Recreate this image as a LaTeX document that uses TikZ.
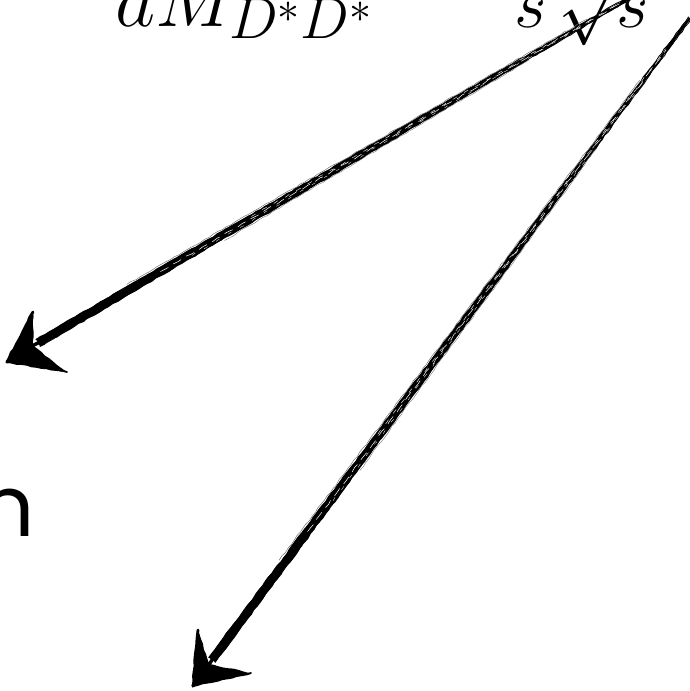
\documentclass[tikz,border=0pt]{standalone}
\usepackage{fix-cm}
\usepackage{fontspec}
\newfontfamily\wordfont{Poppins}
\DeclareMathSizes{78}{78}{58}{44}
\usetikzlibrary{calc, decorations.pathmorphing}

\begin{document}
\begin{tikzpicture}[x=1pt, y=-1pt,
  ink/.style={black, line cap=round, line join=round},
  rough/.style={decorate, decoration={random steps, segment length=5pt, amplitude=0.6pt}},
  big/.style={inner sep=0pt, font=\fontsize{78}{84}\selectfont}]
  \pgfmathsetseed{11}
  \useasboundingbox (0,0) rectangle (690,691);
  \clip (0,0) rectangle (690,691);
  % labels, cut by the frame
  \node[big, anchor=base west] (mass) at (115,26) {$aM_{D^*D^*}$};
  \node[inner sep=0pt, anchor=base west, font=\fontsize{70}{76}\selectfont] (energy) at (514,27) {$s\,\sqrt{s}$};
  \node[inner sep=0pt, anchor=base east, font=\wordfont\fontsize{85}{90}\selectfont] (word) at (35,536) {n};
  % arrow ends
  \coordinate (tail1) at (650,-14);
  \coordinate (neck1) at (38,343);
  \coordinate (tip1) at (7,362);
  \coordinate (barbA1) at (33,312);
  \coordinate (barbB1) at (67,372);
  \coordinate (tail2) at (690,18);
  \coordinate (neck2) at (212,660);
  \coordinate (tip2) at (193,686);
  \coordinate (barbA2) at (198,630);
  \coordinate (barbB2) at (251,673);
  % sketchy arrows
  \foreach \k in {1,2} {
    \fill[ink, rough] ($(neck\k)!4.4pt!90:(tail\k)$) -- ($(neck\k)!0.55!(tail\k)!3.8pt!90:(tail\k)$)
      -- ($(tail\k)!1.2pt!-90:(neck\k)$) -- ($(tail\k)!1.2pt!90:(neck\k)$)
      -- ($(neck\k)!0.55!(tail\k)!3.8pt!-90:(tail\k)$) -- ($(neck\k)!4.4pt!-90:(tail\k)$) -- cycle;
    \draw[ink, rough, line width=0.9pt] ($(neck\k)!4pt!90:(tail\k)$) -- ($(tail\k)!1.8pt!-90:(neck\k)$);
    \draw[ink, rough, line width=0.8pt] ($(neck\k)!3.8pt!-90:(tail\k)$) -- ($(tail\k)!1.6pt!90:(neck\k)$);
    \draw[black!55, rough, line width=0.5pt] ($(neck\k)!0.15!(tail\k)!5.8pt!90:(tail\k)$) -- ($(neck\k)!0.9!(tail\k)!3pt!90:(tail\k)$);
    \draw[black!55, rough, line width=0.4pt] ($(neck\k)!0.3!(tail\k)!5.4pt!-90:(tail\k)$) -- ($(neck\k)!0.8!(tail\k)!3pt!-90:(tail\k)$);
    \draw[white, rough, line width=0.5pt, dash pattern=on 9pt off 6pt] ($(neck\k)!0.2!(tail\k)$) -- ($(neck\k)!0.95!(tail\k)$);
    \draw[white, rough, line width=0.4pt, dash pattern=on 5pt off 8pt] ($(neck\k)!0.35!(tail\k)!1.8pt!90:(tail\k)$) -- ($(neck\k)!0.95!(tail\k)!0.8pt!90:(tail\k)$);
    \draw[white, rough, line width=0.3pt, dash pattern=on 4pt off 10pt] ($(neck\k)!0.25!(tail\k)!2pt!-90:(tail\k)$) -- ($(neck\k)!0.9!(tail\k)!0.7pt!-90:(tail\k)$);
    \fill[ink, rough] (tip\k) -- (barbA\k) -- ($(tip\k)!0.85!(neck\k)$) -- (barbB\k) -- cycle;
    \draw[ink, rough, line width=2.8pt] (tip\k) -- (barbA\k);
    \draw[ink, rough, line width=1.8pt] (tip\k) -- (barbB\k);
    \draw[ink, rough, line width=3.4pt] (tip\k) -- (neck\k);
  }
\end{tikzpicture}
\end{document}
